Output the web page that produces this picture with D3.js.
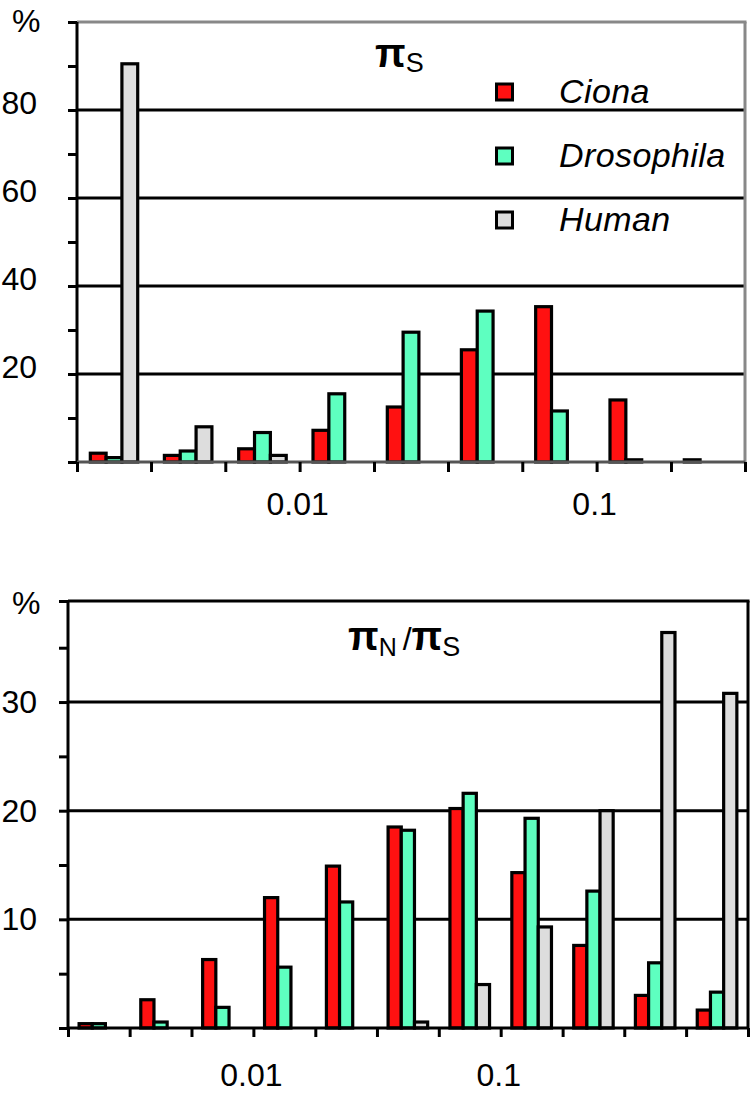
<!DOCTYPE html>
<html><head><meta charset="utf-8">
<script src="https://cdn.jsdelivr.net/npm/d3@7/dist/d3.min.js"></script>
<style>body{margin:0;background:#fff}svg{display:block}text{font-family:"Liberation Sans",Arial,sans-serif}</style>
</head><body><svg id="c" width="751" height="1095"></svg>
<script>
// ---- data ----
const seriesNames = ["Ciona", "Drosophila", "Human"];
const seriesColors = ["#ff1111", "#5effc0", "#dddddd"];
const xTickLabels = ["0.01", "0.1"];
// bin edges (quarter-decade, log scale)
const topBinEdges = [0.00178, 0.00316, 0.00562, 0.01, 0.0178, 0.0316, 0.0562, 0.1, 0.178, 0.316];
const botBinEdges = [0.00178, 0.00316, 0.00562, 0.01, 0.0178, 0.0316, 0.0562, 0.1, 0.178, 0.316, 0.562, 1.0];
// pi_S distribution (%)
const topCiona      = [2, 1.5, 3, 7.2, 12.5, 25.5, 35.3, 14.1, 0.5];
const topDrosophila = [1, 2.5, 6.7, 15.5, 29.5, 34.3, 11.6, 0.5, 0];
const topHuman      = [90.5, 8, 1.5, 0, 0, 0, 0, 0, 0];
// pi_N/pi_S distribution (%)
const botCiona      = [0.4, 2.6, 6.3, 12.0, 14.9, 18.5, 20.2, 14.3, 7.6, 3.0, 1.65];
const botDrosophila = [0.4, 0.55, 1.9, 5.6, 11.6, 18.2, 21.6, 19.3, 12.6, 6.0, 3.3];
const botHuman      = [0, 0, 0, 0, 0, 0.55, 4.0, 9.3, 20.0, 36.4, 30.8];
const topYLabels = [20, 40, 60, 80];
const botYLabels = [10, 20, 30];

const svg = d3.select("#c");
svg.append("rect").attr("width",751).attr("height",1095).attr("fill","#fff");

function drawPanel(o){
  const g = svg.append("g");
  const x = d3.scaleLog().domain([o.edges[0], o.edges[o.edges.length-1]]).range([o.left, o.right]);
  const y = d3.scaleLinear().domain([0, o.ymax]).range([o.bottom, o.top]);
  g.selectAll("line.grid").data(o.grid).join("line")
    .attr("x1", o.left).attr("x2", o.right).attr("y1", d=>y(d)).attr("y2", d=>y(d))
    .attr("stroke","#000").attr("stroke-width",3);
  g.append("line").attr("x1",o.left).attr("x2",o.right+1.5).attr("y1",y(o.ymax)).attr("y2",y(o.ymax))
    .attr("stroke",o.frame).attr("stroke-width",3);
  g.append("line").attr("x1",o.right).attr("x2",o.right).attr("y1",y(o.ymax)).attr("y2",o.bottom)
    .attr("stroke",o.frame).attr("stroke-width",3);
  const bins = d3.range(o.edges.length-1);
  bins.forEach(i=>{
    const x0 = x(o.edges[i]), x1 = x(o.edges[i+1]);
    const w = (x1-x0)*0.64, c=(x0+x1)/2;
    const inner = d3.scaleBand().domain(seriesNames).range([c-w/2, c+w/2]);
    o.data.forEach((arr,k)=>{
      const v = arr[i];
      if(!v) return;
      g.append("rect").attr("x", inner(seriesNames[k])).attr("width", inner.bandwidth())
        .attr("y", y(v)).attr("height", o.bottom - y(v))
        .attr("fill", seriesColors[k]).attr("stroke","#000").attr("stroke-width",3.2);
    });
  });
  const ya = d3.axisLeft(y).tickValues(o.yticks).tickSize(9).tickFormat("");
  const yg = g.append("g").attr("transform",`translate(${o.left},0)`).call(ya);
  yg.selectAll("path,line").attr("stroke","#000").attr("stroke-width",3);
  yg.select(".domain").attr("d",`M0,${o.bottom}V${y(o.ymax)}`);
  const xa = d3.axisBottom(x).tickValues(o.edges).tickSize(o.xtick).tickFormat("");
  const xg = g.append("g").attr("transform",`translate(0,${o.bottom})`).call(xa);
  xg.selectAll("line").attr("stroke","#000").attr("stroke-width",3);
  xg.select(".domain").attr("d",`M${o.left},0H${o.right}`).attr("stroke",o.base).attr("stroke-width",3);
  g.selectAll("text.yl").data(o.ylabels).join("text")
    .attr("x", 37).attr("y", d=>y(d)+o.ydy).attr("text-anchor","end")
    .attr("font-size",32).text(d=>d);
  g.append("text").attr("x",12).attr("y",o.pctY).attr("font-size",32).text("%");
  g.selectAll("text.xl").data(xTickLabels).join("text")
    .attr("x", d=>x(+d)-2).attr("y", o.xlabY).attr("text-anchor","middle")
    .attr("font-size",32).text(d=>d);
  return {x,y};
}

drawPanel({edges: topBinEdges, left:77, right:745, top:22, bottom:462, ymax:100,
  grid:[20,40,60,80], frame:"#888", base:"#555", xtick:10,
  yticks:d3.range(0,101,10), ylabels:topYLabels, ydy:4, pctY:32, xlabY:515,
  data:[topCiona, topDrosophila, topHuman]});

drawPanel({edges: botBinEdges, left:68, right:748, top:601, bottom:1028, ymax:39.3,
  grid:[10,20,30], frame:"#000", base:"#000", xtick:9,
  yticks:[0,5,10,15,20,25,30,35,39.3], ylabels:botYLabels, ydy:11, pctY:614, xlabY:1086,
  data:[botCiona, botDrosophila, botHuman]});

const serif = '"Liberation Serif","DejaVu Serif",serif';
const t1 = svg.append("text").attr("x",375).attr("y",67).attr("font-family",serif);
t1.append("tspan").attr("font-size",40).attr("font-weight","bold").text("π");
t1.append("tspan").attr("font-size",27).attr("dy",5).text("S");

const t2 = svg.append("text").attr("x",348).attr("y",650).attr("font-family",serif);
t2.append("tspan").attr("font-size",40).attr("font-weight","bold").text("π");
t2.append("tspan").attr("font-size",25).attr("dy",6).text("N");
t2.append("tspan").attr("font-size",32).attr("dy",-6).attr("dx",6).text("/");
t2.append("tspan").attr("font-size",40).attr("font-weight","bold").text("π");
t2.append("tspan").attr("font-size",27).attr("dy",6).text("S");

const legY = [92, 156, 220];
const lg = svg.append("g");
seriesNames.forEach((n,k)=>{
  lg.append("rect").attr("x",496.5).attr("y",legY[k]-8).attr("width",16).attr("height",16)
    .attr("fill",seriesColors[k]).attr("stroke","#000").attr("stroke-width",3);
  lg.append("text").attr("x",559).attr("y",legY[k]+11).attr("font-size",34)
    .attr("font-style","italic").attr("letter-spacing",0.4).text(n);
});
</script></body></html>
